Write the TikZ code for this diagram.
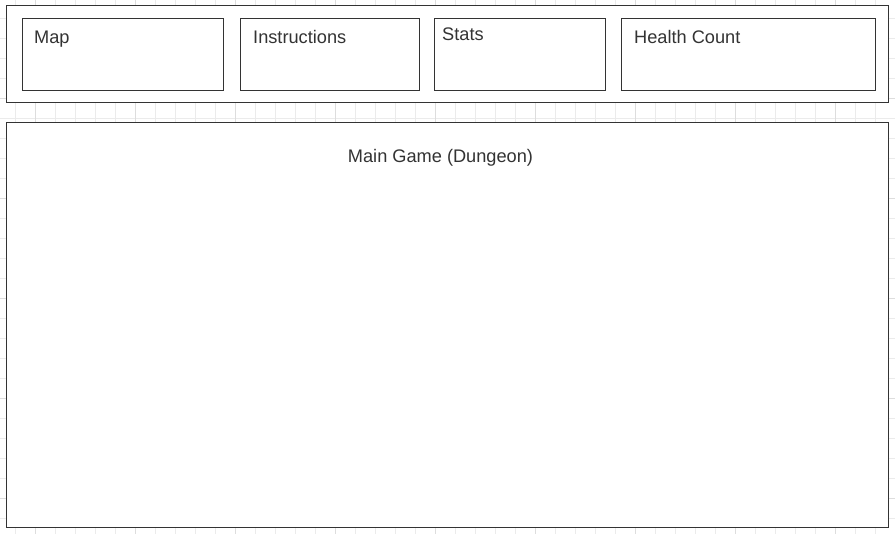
\documentclass[tikz,border=0pt]{standalone}
\usepackage{fontspec}
\setmainfont{Liberation Sans}
\usetikzlibrary{positioning}
\definecolor{boxline}{HTML}{333333}
\definecolor{gridminor}{HTML}{EBEBEB}
\definecolor{gridmajor}{HTML}{DDDDDD}

\begin{document}
\begin{tikzpicture}[x=1pt,y=-1pt,
    panel/.style={draw=boxline,line width=1pt,fill=white,anchor=north west,inner sep=0pt},
    caption/.style={anchor=base west,inner sep=0pt,text=boxline,font=\fontsize{18.2}{22}\selectfont},
    minorline/.style={gridminor,line width=0.8pt},
    majorline/.style={gridmajor,line width=0.8pt}]
    \useasboundingbox (0,0) rectangle (895,534);
    \fill[white] (0,0) rectangle (895,534);

    % background grid
    \foreach \x in {15,35,...,895} \draw[minorline] (\x,0) -- (\x,534);
    \foreach \y in {18,38,...,534} \draw[minorline] (0,\y) -- (895,\y);
    \foreach \x in {35,135,...,835} \draw[majorline] (\x,0) -- (\x,534);
    \foreach \y in {98,198,...,498} \draw[majorline] (0,\y) -- (895,\y);

    % panels
    \node[panel,minimum width=882,minimum height=97] (top) at (6,5) {};
    \node[panel,minimum width=201,minimum height=72] (map) at (22,18) {};
    \node[panel,minimum width=179,minimum height=72] (instr) at (240,18) {};
    \node[panel,minimum width=171,minimum height=72] (stats) at (434,18) {};
    \node[panel,minimum width=254,minimum height=72] (health) at (621,18) {};
    \node[panel,minimum width=882,minimum height=405] (game) at (6,122) {};

    % captions
    \node[caption] (maptext) at ([shift={(12,25.5)}]map.north west) {Map};
    \node[caption] (instrtext) at ([shift={(13,25.5)}]instr.north west) {Instructions};
    \node[caption] (statstext) at ([shift={(8,22.5)}]stats.north west) {Stats};
    \node[caption] (healthtext) at ([shift={(13,25.5)}]health.north west) {Health Count};
    \node[caption,anchor=base] (gametext) at ([shift={(-7,41)}]game.north) {Main Game (Dungeon)};
\end{tikzpicture}
\end{document}
